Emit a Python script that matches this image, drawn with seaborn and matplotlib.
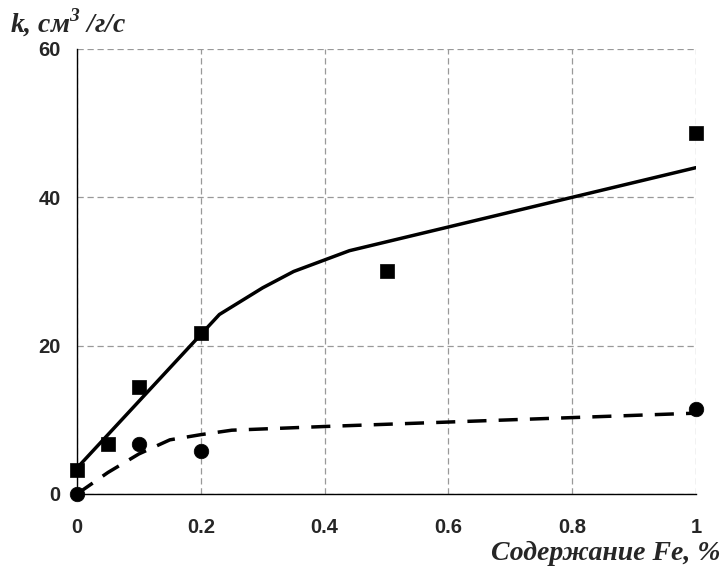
import matplotlib
matplotlib.use("Agg")
import matplotlib.pyplot as plt
import seaborn as sns
import pandas as pd

# measured points
sq_x = [0, 0.05, 0.1, 0.2, 0.5, 1.0]
sq_y = [3.2, 6.7, 14.4, 21.7, 30.1, 48.7]
ci_x = [0, 0.1, 0.2, 1.0]
ci_y = [0.0, 6.8, 5.8, 11.5]

# fitted curves
fit1_x = [0, 0.2, 0.23, 0.3, 0.35, 0.44, 1.0]
fit1_y = [3.5, 21.5, 24.2, 27.8, 30.0, 32.8, 44.0]
fit2_x = [0, 0.05, 0.1, 0.15, 0.2, 0.25, 0.4, 0.6, 1.0]
fit2_y = [0.0, 2.9, 5.4, 7.3, 8.0, 8.6, 9.1, 9.7, 10.9]

xticks = [0, 0.2, 0.4, 0.6, 0.8, 1]
xtick_labels = ["0", "0.2", "0.4", "0.6", "0.8", "1"]
yticks = [0, 20, 40, 60]

sns.set_style("white")
plt.rcParams['font.family'] = ['Liberation Sans', 'DejaVu Sans']
plt.rcParams['mathtext.fontset'] = 'custom'
plt.rcParams['mathtext.bf'] = 'Liberation Serif:bold:italic'
plt.rcParams['mathtext.rm'] = 'Liberation Serif:bold:italic'

fig = plt.figure(figsize=(7.23, 5.68), dpi=100)
ax = fig.add_axes([0.1065, 0.1303, 0.8562, 0.7835])

df1 = pd.DataFrame({'x': fit1_x, 'y': fit1_y})
df2 = pd.DataFrame({'x': fit2_x, 'y': fit2_y})
sns.lineplot(data=df1, x='x', y='y', ax=ax, color='black', lw=2.5, sort=False)
sns.lineplot(data=df2, x='x', y='y', ax=ax, color='black', lw=2.5, sort=False,
             dashes=False, linestyle=(0, (5.5, 3.5)))
sns.scatterplot(x=sq_x, y=sq_y, ax=ax, marker='s', s=110, color='black',
                edgecolor='black', linewidth=0.5, zorder=5, clip_on=False)
sns.scatterplot(x=ci_x, y=ci_y, ax=ax, marker='o', s=110, color='black',
                edgecolor='black', linewidth=0.5, zorder=5, clip_on=False)

ax.set_xlim(0, 1)
ax.set_ylim(0, 60)
ax.set_xticks(xticks)
ax.set_xticklabels(xtick_labels)
ax.set_yticks(yticks)
ax.tick_params(axis='both', width=0.8, color='#777777', labelsize=14.5)
ax.tick_params(axis='x', direction='out', length=4.5, pad=13)
ax.tick_params(axis='y', direction='inout', length=7.5, pad=8)
for lab in ax.get_xticklabels() + ax.get_yticklabels():
    lab.set_fontweight('bold')

ax.grid(True, color='#999999', linestyle=(0, (5, 3)), linewidth=0.9)
for s in ['top', 'right']:
    ax.spines[s].set_visible(False)
for s in ['left', 'bottom']:
    ax.spines[s].set_color('black')
    ax.spines[s].set_linewidth(1.0)

ax.set_xlabel('')
ax.set_ylabel('')

fig.text(0.014, 0.944, r"k, см$^{\mathbf{3}}$ /г/с", fontsize=20,
         family='Liberation Serif', fontweight='bold', style='italic', va='baseline')
fig.text(0.996, 0.014, "Содержание Fe, %", fontsize=20,
         family='Liberation Serif', fontweight='bold', style='italic',
         ha='right', va='baseline')

fig.savefig('out.png', dpi=100)
